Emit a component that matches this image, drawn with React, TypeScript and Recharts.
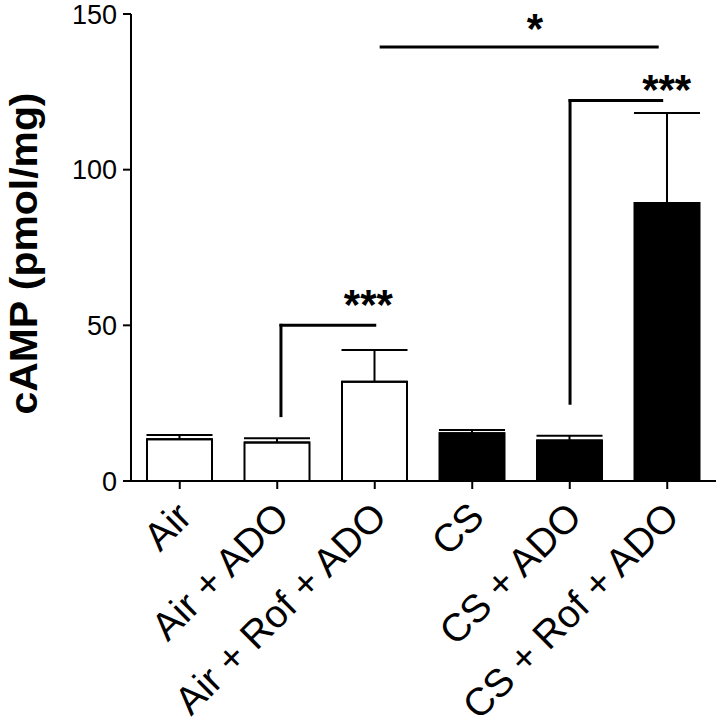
import React from 'react';
import { BarChart, Bar, XAxis, YAxis, Cell, ErrorBar, ReferenceLine, ReferenceDot, Label } from 'recharts';

const categories = ['Air', 'Air + ADO', 'Air + Rof + ADO', 'CS', 'CS + ADO', 'CS + Rof + ADO'];
const positions = [0.5, 1.5, 2.5, 3.5, 4.5, 5.5];
const means = [13.4, 12.4, 31.9, 15.3, 13.0, 89.3];
const sems = [1.4, 1.3, 10.2, 1.1, 1.5, 28.9];
const fills = ['#ffffff', '#ffffff', '#ffffff', '#000000', '#000000', '#000000'];
const yTicks = [0, 50, 100, 150];

// significance brackets, in category-index units (category i centre = i + 0.5)
const bracketSegments = [
  [{ x: 1.538, y: 21 }, { x: 1.538, y: 50 }],
  [{ x: 1.538, y: 50 }, { x: 2.5, y: 50 }],
  [{ x: 4.503, y: 25 }, { x: 4.503, y: 122.2 }],
  [{ x: 4.503, y: 122.2 }, { x: 5.443, y: 122.2 }],
  [{ x: 2.566, y: 139.4 }, { x: 5.397, y: 139.4 }],
];
const starLabels = ['***', '***', '*'];
const starX = [2.434, 5.494, 4.144];
const starY = [59.5, 128.5, 148.2];

const data = categories.map((name, i) => ({ name, pos: positions[i], value: means[i], err: [0, sems[i]] }));

const FONT = '"Liberation Sans", Arial, Helvetica, sans-serif';

const XTick = (props: any) => {
  const { x, payload } = props;
  const idx = positions.indexOf(payload.value);
  const ex = x + 14;
  const ey = 481 + 38;
  return (
    <text x={ex} y={ey} transform={`rotate(-45, ${ex}, ${ey})`} textAnchor="end" fontSize={39} fontFamily={FONT} fill="#000">
      {categories[idx] ?? ''}
    </text>
  );
};

const StarShape = (label: string) => (props: any) => {
  const { cx, cy } = props;
  return (
    <text x={cx} y={cy + 0.55 * 42} textAnchor="middle" fontSize={42} fontWeight="bold" fontFamily={FONT} fill="#000">
      {label}
    </text>
  );
};

const YLabel = (props: any) => {
  const vb = props.viewBox || { x: 0, y: 14, width: 131, height: 467 };
  const x = vb.x + 36.5;
  const y = vb.y + vb.height / 2 + 6;
  return (
    <text
      x={x}
      y={y}
      transform={`rotate(-90, ${x}, ${y})`}
      textAnchor="middle"
      fontSize={38}
      fontWeight="bold"
      fontFamily={FONT}
      fill="#000"
      textLength={322}
      lengthAdjust="spacingAndGlyphs"
    >
      cAMP (pmol/mg)
    </text>
  );
};

export default function App() {
  return (
    <div style={{ position: 'absolute', left: 0, top: 0, width: 720, height: 725, background: '#fff' }}>
      <BarChart width={720} height={725} data={data} margin={{ top: 14, right: 4, left: 0, bottom: 0 }}>
        <XAxis
          dataKey="pos"
          type="number"
          domain={[0, 6]}
          ticks={positions}
          allowDataOverflow
          height={244}
          axisLine={{ stroke: '#000', strokeWidth: 2 }}
          tickLine={{ stroke: '#000', strokeWidth: 2 }}
          tickSize={8}
          tick={<XTick />}
          interval={0}
        />
        <YAxis
          width={131}
          domain={[0, 150]}
          ticks={yTicks}
          axisLine={{ stroke: '#000', strokeWidth: 2 }}
          tickLine={{ stroke: '#000', strokeWidth: 2 }}
          tickSize={8}
          tickMargin={6}
          tick={{ fill: '#000', fontSize: 27, fontFamily: FONT }}
          interval={0}
        >
          <Label content={<YLabel />} />
        </YAxis>
        <Bar dataKey="value" barSize={65} stroke="#000" strokeWidth={2} isAnimationActive={false}>
          {data.map((d, i) => (
            <Cell key={d.name} fill={fills[i]} />
          ))}
          <ErrorBar dataKey="err" width={33} stroke="#000" strokeWidth={2} direction="y" />
        </Bar>
        {bracketSegments.map((seg, i) => (
          <ReferenceLine key={`b${i}`} segment={seg} stroke="#000" strokeWidth={3} strokeLinecap="square" ifOverflow="visible" />
        ))}
        {starLabels.map((s, i) => (
          <ReferenceDot key={`s${i}`} x={starX[i]} y={starY[i]} r={0} ifOverflow="visible" shape={StarShape(s)} />
        ))}
      </BarChart>
    </div>
  );
}
